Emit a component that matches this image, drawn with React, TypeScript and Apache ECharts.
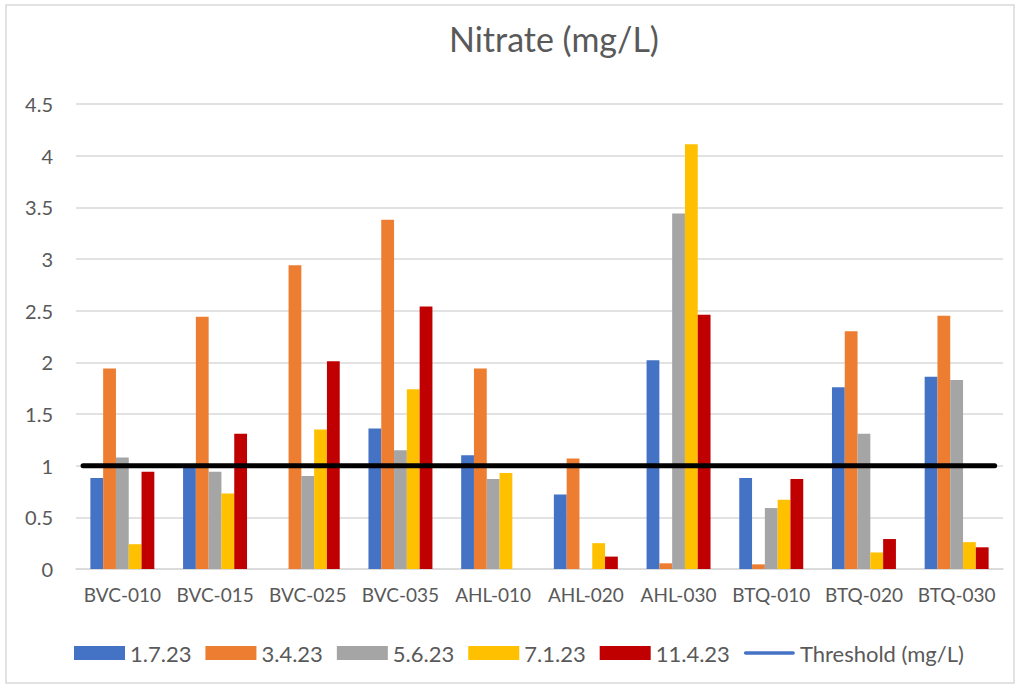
import React, { useEffect, useRef } from "react";
import * as echarts from "echarts";

const categories = ["BVC-010", "BVC-015", "BVC-025", "BVC-035", "AHL-010", "AHL-020", "AHL-030", "BTQ-010", "BTQ-020", "BTQ-030"];
const s1723 = [0.88, 1.0, 0, 1.36, 1.1, 0.72, 2.02, 0.88, 1.76, 1.86];
const s3423 = [1.94, 2.44, 2.94, 3.38, 1.94, 1.07, 0.055, 0.045, 2.3, 2.45];
const s5623 = [1.08, 0.94, 0.9, 1.15, 0.87, 0, 3.44, 0.59, 1.31, 1.83];
const s7123 = [0.24, 0.73, 1.35, 1.74, 0.93, 0.25, 4.11, 0.67, 0.16, 0.26];
const s11423 = [0.94, 1.31, 2.01, 2.54, 0, 0.12, 2.46, 0.87, 0.29, 0.21];
const thresholdValue = 1;
const yTicks = { min: 0, max: 4.5, interval: 0.5 };

const seriesNames = ["1.7.23", "3.4.23", "5.6.23", "7.1.23", "11.4.23"];
const seriesData = [s1723, s3423, s5623, s7123, s11423];
const colors = ["#4472C4", "#ED7D31", "#A5A5A5", "#FFC000", "#C00000"];
const thresholdName = "Threshold (mg/L)";

const FONT = "Lato, 'Noto Sans', sans-serif";
const TEXT = "#595959";

export default function App() {
  const ref = useRef<HTMLDivElement>(null);
  useEffect(() => {
    if (!ref.current) return;
    const chart = echarts.init(ref.current, undefined, { renderer: "svg" });
    const bars = seriesNames.map((name, i) => ({
      name,
      type: "bar",
      data: seriesData[i],
      itemStyle: { color: colors[i] },
      barGap: "0%",
      barCategoryGap: "31%",
      xAxisIndex: 0,
      yAxisIndex: 0,
    }));
    chart.setOption({
      animation: false,
      textStyle: { fontFamily: FONT },
      title: {
        text: "Nitrate (mg/L)",
        left: 444,
        top: 16,
        textStyle: { fontFamily: FONT, fontSize: 34, fontWeight: "normal", color: TEXT },
      },
      graphic: [
        {
          type: "rect",
          shape: { x: 6, y: 5, width: 1008, height: 678 },
          style: { fill: "none", stroke: "#d9d9d9", lineWidth: 1.5 },
          silent: true,
        },
      ],
      legend: {
        left: 69,
        top: 637,
        itemWidth: 51,
        itemHeight: 14,
        itemGap: 14,
        textStyle: { fontFamily: FONT, fontSize: 22, color: TEXT },
        data: [
          ...seriesNames.map((n) => ({ name: n, icon: "rect" })),
          {
            name: thresholdName,
            icon: "path://M2,0 H54 A2,2 0 0 1 54,4 H2 A2,2 0 0 1 2,0 Z",
            itemStyle: { color: "#4472C4" },
          },
        ],
      },
      grid: { left: 76, right: 18, top: 104, bottom: 120, containLabel: false },
      xAxis: [
        {
          type: "category",
          data: categories,
          axisLine: { show: true, lineStyle: { color: "#d9d9d9", width: 1.5 } },
          axisTick: { show: false },
          axisLabel: { color: TEXT, fontSize: 19, fontFamily: FONT, margin: 16, interval: 0 },
        },
        {
          type: "value",
          min: 0,
          max: 1,
          show: false,
        },
      ],
      yAxis: [
        {
          type: "value",
          min: yTicks.min,
          max: yTicks.max,
          interval: yTicks.interval,
          axisLine: { show: false },
          axisTick: { show: false },
          splitLine: { lineStyle: { color: "#d9d9d9", width: 1.5 } },
          axisLabel: { color: TEXT, fontSize: 20, fontFamily: FONT, margin: 23 },
        },
      ],
      series: [
        ...bars,
        {
          name: thresholdName,
          type: "line",
          xAxisIndex: 1,
          yAxisIndex: 0,
          symbol: "none",
          showSymbol: false,
          clip: false,
          data: [
            [0.0076, thresholdValue],
            [0.991, thresholdValue],
          ],
          itemStyle: { color: "#000000" },
          lineStyle: { color: "#000000", width: 5, cap: "round" },
          z: 5,
        },
      ],
    });
    return () => chart.dispose();
  }, []);
  return (
    <div
      ref={ref}
      style={{ position: "absolute", left: 0, top: 0, width: 1021, height: 689, background: "#fff" }}
    />
  );
}
